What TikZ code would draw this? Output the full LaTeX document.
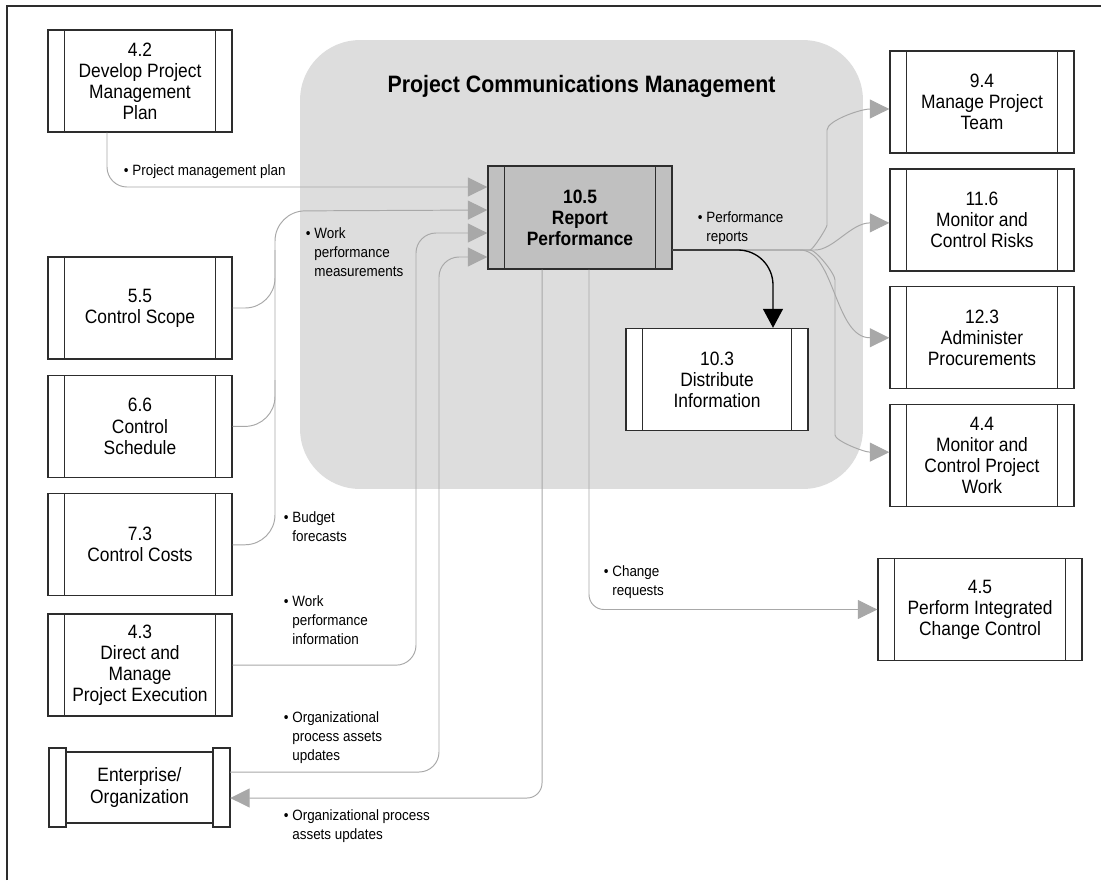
\documentclass[tikz,border=0pt]{standalone}
\usepackage{fontspec}
\setmainfont{Liberation Sans}[FakeStretch=0.9]
\usetikzlibrary{arrows.meta,positioning,calc}
\definecolor{Edge}{RGB}{45,45,45}
\definecolor{Wire}{RGB}{168,168,168}
\definecolor{Region}{RGB}{221,221,221}
\definecolor{Core}{RGB}{192,192,192}
\newcommand\itm{\llap{\textbullet\ }}

\begin{document}
\begin{tikzpicture}[
    x=0.02cm, y=-0.02cm,
    node distance=0.3cm,
    proc/.style={draw=Edge, line width=0.8pt, fill=white, align=center,
      minimum width=3.68cm, minimum height=2.04cm, inner sep=0pt,
      font=\fontsize{11}{12}\selectfont,
      path picture={\draw[Edge, line width=0.8pt]
        ([xshift=0.33cm]path picture bounding box.north west) -- ([xshift=0.33cm]path picture bounding box.south west)
        ([xshift=-0.33cm]path picture bounding box.north east) -- ([xshift=-0.33cm]path picture bounding box.south east);}},
    bar/.style={draw=Edge, line width=0.8pt, fill=white, minimum width=0.34cm,
      minimum height=1.58cm, inner sep=0pt, outer sep=0pt},
    lbl/.style={anchor=north west, align=left, inner sep=0pt, font=\fontsize{8.5}{11}\selectfont},
    flow/.style={draw=Wire, line width=0.55pt, rounded corners=0.4cm,
      -{Triangle[length=0.39cm, width=0.38cm]}},
    wire/.style={draw=Wire, line width=0.55pt, rounded corners=0.6cm},
    darr/.style={draw=black, line width=0.75pt, rounded corners=0.7cm,
      -{Triangle[length=0.38cm, width=0.4cm]}}
  ]
    \useasboundingbox (0,0) rectangle (1101,880);
    \draw[Edge, line width=0.9pt] (7,880) -- (7,6) -- (1101,6);

    % shaded process group
    \node[fill=Region, rounded corners=1.2cm, minimum width=11.26cm, minimum height=8.98cm] (pcm) at (581.5,264.5) {};
    \node[font=\bfseries\fontsize{13.5}{15}\selectfont] (title) at ([yshift=-0.94cm]pcm.north) {Project Communications Management};

    % inputs
    \node[proc] (develop) at (140,81) {4.2\\Develop Project\\Management\\Plan};
    \node[proc] (scope) at (140,308) {5.5\\Control Scope};
    \node[proc, below=of scope] (schedule) {6.6\\Control\\Schedule};
    \node[proc, below=of schedule] (costs) {7.3\\Control Costs};
    \node[proc, below=0.34cm of costs] (execute) {4.3\\Direct and\\Manage\\Project Execution};
    \node[draw=Edge, line width=0.8pt, fill=white, minimum width=2.92cm, minimum height=1.42cm,
      align=center, inner sep=0pt, font=\fontsize{11}{12}\selectfont] (enterprise) at (139.5,787.5) {Enterprise/\\Organization};
    \node[bar, left=0pt of enterprise] (entL) {};
    \node[bar, right=0pt of enterprise] (entR) {};

    % the process
    \node[proc, fill=Core, minimum height=2.06cm, font=\bfseries\fontsize{11}{12}\selectfont] (report) at (580,217.5) {10.5\\Report\\Performance};
    \node[proc, minimum width=3.64cm] (distribute) at (717,379.5) {10.3\\Distribute\\Information};

    % outputs
    \node[proc] (team) at (982,102) {9.4\\Manage Project\\Team};
    \node[proc, below=0.29cm of team] (risks) {11.6\\Monitor and\\Control Risks};
    \node[proc, below=0.29cm of risks] (procure) {12.3\\Administer\\Procurements};
    \node[proc, below=0.29cm of procure] (monitor) {4.4\\Monitor and\\Control Project\\Work};
    \node[proc, minimum width=4.08cm] (change) at (980,609.5) {4.5\\Perform Integrated\\Change Control};

    \coordinate (in1) at ([yshift=0.61cm]report.west);
    \coordinate (in2) at ([yshift=0.15cm]report.west);
    \coordinate (in3) at ([yshift=-0.31cm]report.west);
    \coordinate (in4) at ([yshift=-0.79cm]report.west);
    \coordinate (out) at ([yshift=-0.65cm]report.east);

    % incoming
    \draw[flow] ([xshift=-0.66cm]develop.south) |- (in1);
    \draw[wire] (scope.east) -| (275,250);
    \draw[wire] (schedule.east) -| (275,380);
    \draw[flow, rounded corners=0.6cm] (costs.east) -| (275,211) -- (in2);
    \draw[flow] (execute.east) -| (416,233) -- (in3);
    \draw[flow] ([yshift=0.31cm]entR.east) -| (439,257) -- (in4);

    % outgoing
    \draw[flow, rounded corners=0.3cm] ([xshift=-0.76cm]report.south) |- ([yshift=-0.21cm]entR.east);
    \draw[flow, rounded corners=0.3cm] ([xshift=0.18cm]report.south) |- (change.west);
    \draw[flow] (out) -- (790,250) to[out=0,in=-90] (827,205) -- (827,150) to[out=90,in=180] ([yshift=-0.14cm]team.west);
    \draw[flow] (out) -- (795,250) to[out=0,in=180] ([yshift=-0.06cm]risks.west);
    \draw[flow] (out) -- (780,250) to[out=0,in=180] (procure.west);
    \draw[flow] (out) -- (790,250) to[out=0,in=90] (835,300) -- (835,415) to[out=-90,in=180] ([yshift=0.07cm]monitor.west);
    \draw[darr] (out) -| ([xshift=1.12cm]distribute.north);

    % labels
    \node[lbl] (lplan) at (132,164) {\itm Project management plan};
    \node[lbl] (lmeas) at (314,227) {\itm Work\\performance\\measurements};
    \node[lbl] (lbudget) at (292,511) {\itm Budget\\forecasts};
    \node[lbl] (linfo) at (292,595) {\itm Work\\performance\\information};
    \node[lbl] (lassets) at (292,711) {\itm Organizational\\process assets\\updates};
    \node[lbl] (lupdates) at (292,809) {\itm Organizational process\\assets updates};
    \node[lbl] (lchange) at (612,565) {\itm Change\\requests};
    \node[lbl] (lreports) at (706,211) {\itm Performance\\reports};
\end{tikzpicture}
\end{document}
